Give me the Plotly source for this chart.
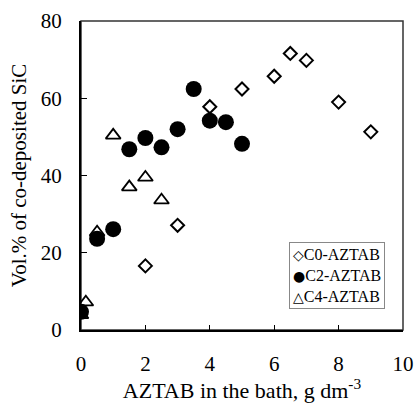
import plotly.graph_objects as go

c0_x = [2, 3, 4, 5, 6, 6.5, 7, 8, 9]
c0_y = [16.6, 27.1, 57.8, 62.4, 65.7, 71.6, 69.8, 59.0, 51.3]

c2_x = [0, 0.5, 1, 1.5, 2, 2.5, 3, 3.5, 4, 4.5, 5]
c2_y = [4.7, 23.6, 26.1, 46.8, 49.7, 47.3, 52.0, 62.4, 54.2, 53.8, 48.2]

c4_x = [0, 0.15, 0.5, 1, 1.5, 2, 2.5]
c4_y = [3.9, 7.2, 25.3, 50.4, 37.0, 39.5, 33.6]

series_names = ["C0-AZTAB", "C2-AZTAB", "C4-AZTAB"]
legend_glyphs = ["\u25C7", "\u25CF", "\u25B3"]

x_ticks = [0, 2, 4, 6, 8, 10]
y_ticks = [0, 20, 40, 60, 80]

FONT = "Liberation Serif"

fig = go.Figure()
fig.add_trace(go.Scatter(x=c0_x, y=c0_y, mode="markers", name=series_names[0],
                         marker=dict(symbol="diamond-open", size=10, color="black",
                                     line=dict(width=2, color="black"))))
fig.add_trace(go.Scatter(x=c2_x, y=c2_y, mode="markers", name=series_names[1],
                         marker=dict(symbol="circle", size=16, color="black")))
fig.add_trace(go.Scatter(x=c4_x, y=c4_y, mode="markers", name=series_names[2],
                         marker=dict(symbol="triangle-up-open", size=13, color="black",
                                     line=dict(width=1.8, color="black"))))

legend_text = "<br>".join(
    f"<span style='font-family:DejaVu Sans;font-size:14px;font-weight:bold'>{g}</span>{n}"
    for g, n in zip(legend_glyphs, series_names))

fig.update_layout(
    width=415, height=403,
    margin=dict(l=81, r=12, t=21, b=73, autoexpand=False),
    paper_bgcolor="white", plot_bgcolor="white",
    font=dict(family=FONT, color="black", size=21),
    showlegend=False,
    shapes=[dict(type="rect", xref="paper", yref="paper", x0=0, x1=1, y0=0, y1=1,
                 line=dict(color="#333", width=1.5), layer="below")],
    annotations=[dict(text=legend_text, xref="paper", yref="paper",
                      x=0.645, y=0.284, xanchor="left", yanchor="top",
                      align="left", showarrow=False,
                      font=dict(family=FONT, size=16, color="black"),
                      bordercolor="#888", borderwidth=1, borderpad=3,
                      bgcolor="white")],
)
fig.update_xaxes(range=[0, 10], tickvals=x_ticks, ticks="inside", ticklen=5,
                 tickcolor="black", showline=True, linecolor="black", linewidth=2,
                 showgrid=False, zeroline=False, ticklabelstandoff=14, automargin=False,
                 title=dict(text="AZTAB in the bath, g dm<sup>-3</sup>", font=dict(size=22), standoff=6))
fig.update_yaxes(range=[0, 80], tickvals=y_ticks, ticks="inside", ticklen=6,
                 tickcolor="black", showline=True, linecolor="black", linewidth=2,
                 showgrid=False, zeroline=False, ticklabelstandoff=13, automargin=False,
                 title=dict(text="Vol.% of co-deposited SiC", font=dict(size=21), standoff=8))

fig.write_html("out.html")
